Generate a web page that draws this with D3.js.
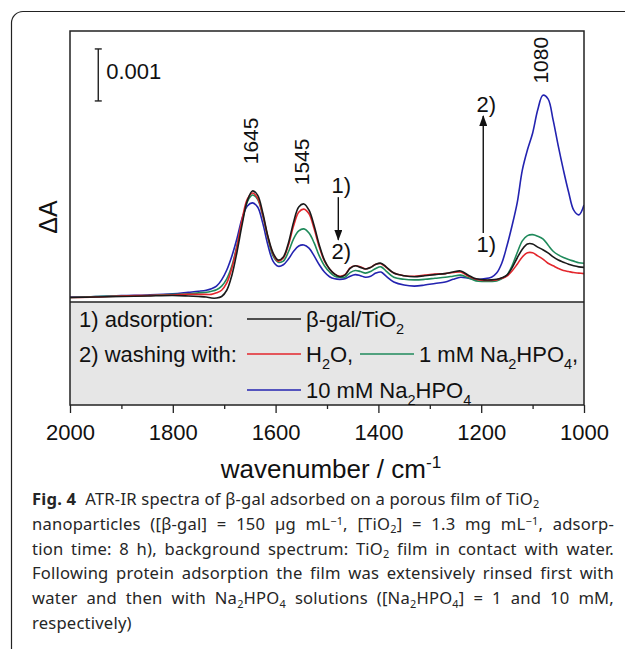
<!DOCTYPE html>
<html>
<head>
<meta charset="utf-8">
<script src="https://cdn.jsdelivr.net/npm/d3@7"></script>
<style>
  html, body { margin: 0; padding: 0; background: #fff; }
  svg { display: block; }
  text { white-space: pre; }
</style>
</head>
<body>
<svg id="chart" width="625" height="649"></svg>
<script>
// wavenumber grid (cm-1)
const wavenumbers = [2000,1950,1900,1850,1800, 1770,1750,1735,1725,1715, 1705,1695,1685,1675,1665,
  1655,1645,1635,1625,1615, 1605,1595,1585,1575,1565, 1555,1545,1535,1525,1515,
  1505,1495,1485,1475,1465, 1455,1445,1435,1425,1415, 1405,1395,1385,1370,1350,
  1330,1310,1290,1270,1255, 1240,1225,1210,1195,1180, 1170,1160,1150,1140,1130,
  1120,1110,1100,1090,1080, 1070,1060,1050,1040,1030, 1020,1010,1000];

// ΔA in units of 1e-3 (scale bar = 0.001)
const adsorbed = [-0.01,0.00,0.01,0.02,0.03, 0.02,0.01,0.00,-0.02,-0.02, 0.01,0.13,0.42,0.87,1.40,
  1.85,2.04,1.96,1.62,1.17, 0.85,0.71,0.77,1.04,1.44, 1.73,1.79,1.67,1.37,1.00,
  0.71,0.54,0.44,0.39,0.42, 0.55,0.60,0.57,0.54,0.57, 0.63,0.65,0.58,0.46,0.41,
  0.39,0.41,0.43,0.45,0.48, 0.50,0.42,0.35,0.33,0.33, 0.34,0.37,0.42,0.56,0.75,
  0.92,1.02,1.02,0.96,0.91, 0.85,0.77,0.71,0.67,0.63, 0.60,0.58,0.57];
const washH2O = [-0.01,0.00,0.02,0.03,0.04, 0.05,0.05,0.05,0.05,0.08, 0.13,0.27,0.56,0.98,1.50,
  1.88,2.00,1.90,1.58,1.15, 0.83,0.69,0.75,1.00,1.37, 1.63,1.69,1.60,1.31,0.96,
  0.69,0.54,0.44,0.40,0.43, 0.56,0.60,0.58,0.54,0.57, 0.63,0.64,0.57,0.46,0.41,
  0.40,0.42,0.44,0.45,0.47, 0.48,0.40,0.34,0.32,0.32, 0.33,0.36,0.40,0.50,0.63,
  0.77,0.85,0.85,0.79,0.73, 0.65,0.60,0.55,0.51,0.49, 0.47,0.46,0.45];
const washNa1 = [-0.01,0.01,0.02,0.03,0.05, 0.06,0.08,0.09,0.11,0.14, 0.21,0.35,0.60,1.00,1.46,
  1.83,1.96,1.88,1.56,1.13, 0.79,0.67,0.69,0.87,1.12, 1.27,1.31,1.23,1.04,0.79,
  0.60,0.48,0.40,0.38,0.38, 0.47,0.51,0.49,0.46,0.49, 0.55,0.58,0.50,0.38,0.34,
  0.33,0.34,0.36,0.38,0.40, 0.42,0.37,0.31,0.30,0.30, 0.31,0.35,0.42,0.60,0.85,
  1.08,1.18,1.20,1.17,1.12, 1.00,0.88,0.81,0.76,0.72, 0.69,0.66,0.65];
const washNa10 = [0.00,0.01,0.03,0.04,0.06, 0.09,0.11,0.13,0.16,0.21, 0.33,0.52,0.79,1.13,1.52,
  1.75,1.81,1.73,1.42,1.00, 0.69,0.59,0.62,0.73,0.88, 0.98,1.00,0.94,0.79,0.62,
  0.48,0.39,0.35,0.34,0.35, 0.40,0.43,0.41,0.38,0.40, 0.46,0.48,0.40,0.29,0.23,
  0.21,0.23,0.26,0.29,0.34, 0.38,0.36,0.34,0.35,0.38, 0.46,0.65,0.98,1.37,1.81,
  2.44,2.83,3.15,3.60,3.88, 3.81,3.40,2.90,2.44,2.02, 1.67,1.58,1.77];

const xTicks = [2000, 1800, 1600, 1400, 1200, 1000];
const peakLabels = ['1645', '1545', '1080'];
const scaleBarLabel = '0.001';

const seriesColors = ['#1a1a1a', '#e3262c', '#1f8a5b', '#2323b0'];

const svg = d3.select('#chart');
const font = '"Liberation Sans", Arial, sans-serif';
const capFont = '"Noto Sans", "Open Sans", sans-serif';

// rich text helper: parts = [[str, kind]], kind in '', 'sub', 'sup', 'b'
function rich(t, parts, size, subK = 0.3, supK = 0.4) {
  let shift = 0;
  parts.forEach(([str, kind]) => {
    const s = t.append('tspan').text(str);
    let target = 0;
    if (kind === 'sub') { target = size * subK; s.attr('font-size', size * 0.66); }
    else if (kind === 'sup') { target = -size * supK; s.attr('font-size', size * 0.66); }
    else if (kind === 'b') s.attr('font-weight', 'bold');
    if (target !== shift) { s.attr('dy', target - shift); shift = target; }
  });
  return t;
}

// outer rounded frame
svg.append('path')
  .attr('d', 'M11.5,660 V23 A11.5,11.5 0 0 1 23,11.5 H640')
  .attr('fill', 'none').attr('stroke', '#222').attr('stroke-width', 1.2);

const plot = { left: 70, right: 584, top: 31, bottom: 302, axis: 405 };

const x = d3.scaleLinear().domain([2000, 1000]).range([plot.left, plot.right]);
const y = d3.scaleLinear().domain([-0.096, 5.115]).range([plot.bottom, plot.top]);

// legend panel
svg.append('rect')
  .attr('x', plot.left).attr('y', plot.bottom)
  .attr('width', plot.right - plot.left).attr('height', plot.axis - plot.bottom)
  .attr('fill', '#e6e6e6');
svg.append('line')
  .attr('x1', plot.left).attr('x2', plot.right)
  .attr('y1', plot.bottom).attr('y2', plot.bottom)
  .attr('stroke', '#222').attr('stroke-width', 1.5);

svg.append('clipPath').attr('id', 'clip')
  .append('rect')
  .attr('x', plot.left).attr('y', plot.top)
  .attr('width', plot.right - plot.left).attr('height', plot.bottom - plot.top);

// spectra
const series = [adsorbed, washH2O, washNa1, washNa10];
const line = d3.line()
  .x((d, i) => x(wavenumbers[i]))
  .y(d => y(d))
  .curve(d3.curveCatmullRom.alpha(0.5));
const gLines = svg.append('g').attr('clip-path', 'url(#clip)');
[3, 2, 1, 0].forEach(k => {
  gLines.append('path')
    .datum(series[k])
    .attr('d', line)
    .attr('fill', 'none')
    .attr('stroke', seriesColors[k])
    .attr('stroke-width', 1.6);
});

// frame of the plot
svg.append('rect')
  .attr('x', plot.left).attr('y', plot.top)
  .attr('width', plot.right - plot.left).attr('height', plot.axis - plot.top)
  .attr('fill', 'none').attr('stroke', '#222').attr('stroke-width', 1.5);

// x axis with minor ticks
const minor = d3.range(1900, 1000, -200);
svg.append('g')
  .attr('transform', `translate(0,${plot.axis})`)
  .call(d3.axisBottom(x).tickValues(minor).tickSize(4).tickFormat(''))
  .call(g => g.select('.domain').remove())
  .selectAll('line').attr('stroke', '#222').attr('stroke-width', 1.3);
const xAxis = svg.append('g')
  .attr('transform', `translate(0,${plot.axis})`)
  .call(d3.axisBottom(x).tickValues(xTicks).tickSize(8).tickPadding(11).tickFormat(d3.format('d')));
xAxis.select('.domain').remove();
xAxis.selectAll('line').attr('stroke', '#222').attr('stroke-width', 1.3);
xAxis.selectAll('text')
  .attr('font-family', font).attr('font-size', 22).attr('fill', '#111');

// axis titles
rich(svg.append('text')
  .attr('x', 331).attr('y', 478)
  .attr('text-anchor', 'middle')
  .attr('font-family', font).attr('font-size', 26).attr('fill', '#111'),
  [['wavenumber / cm', ''], ['-1', 'sup']], 26);

svg.append('text')
  .attr('transform', 'translate(57,217) rotate(-90)')
  .attr('text-anchor', 'middle')
  .attr('font-family', font).attr('font-size', 25).attr('fill', '#111')
  .text('ΔA');

// scale bar (0.001)
const sbX = x(1945);
const sb0 = y(3.77), sb1 = y(4.77);
const sb = svg.append('g').attr('stroke', '#222').attr('stroke-width', 1.4);
sb.append('line').attr('x1', sbX).attr('x2', sbX).attr('y1', sb0).attr('y2', sb1);
sb.append('line').attr('x1', sbX - 3.5).attr('x2', sbX + 3.5).attr('y1', sb0).attr('y2', sb0);
sb.append('line').attr('x1', sbX - 3.5).attr('x2', sbX + 3.5).attr('y1', sb1).attr('y2', sb1);
svg.append('text')
  .attr('x', sbX + 8).attr('y', 79)
  .attr('font-family', font).attr('font-size', 22).attr('fill', '#111')
  .text(scaleBarLabel);

// peak labels (rotated)
const peakTop = [d3.max(adsorbed), d3.max(adsorbed.slice(25, 28)), d3.max(washNa10)];
const peakGap = [50, 42, 35];
peakLabels.forEach((lab, i) => {
  const cx = x(+lab) - 2;
  const cy = y(peakTop[i]) - peakGap[i];
  svg.append('text')
    .attr('transform', `translate(${cx},${cy}) rotate(-90)`)
    .attr('text-anchor', 'middle')
    .attr('dominant-baseline', 'central')
    .attr('font-family', font).attr('font-size', 21).attr('fill', '#111')
    .text(lab);
});

// arrows 1) -> 2)
const defs = svg.append('defs');
defs.append('marker')
  .attr('id', 'ah').attr('markerUnits', 'userSpaceOnUse')
  .attr('markerWidth', 11).attr('markerHeight', 8)
  .attr('refX', 10).attr('refY', 4).attr('orient', 'auto')
  .append('path').attr('d', 'M0,0 L11,4 L0,8 Z').attr('fill', '#111');

const arrows = [
  { wn: 1478, from: 1.92, to: 1.10 },
  { wn: 1196, from: 1.23, to: 3.48 }
];
arrows.forEach(a => {
  const ax = x(a.wn);
  svg.append('line')
    .attr('x1', ax).attr('x2', ax)
    .attr('y1', y(a.from)).attr('y2', y(a.to))
    .attr('stroke', '#111').attr('stroke-width', 1.4)
    .attr('marker-end', 'url(#ah)');
  const down = a.to < a.from;
  const top = down ? y(a.from) : y(a.to);
  const bot = down ? y(a.to) : y(a.from);
  svg.append('text')
    .attr('x', ax + 3).attr('y', top - 4)
    .attr('text-anchor', 'middle')
    .attr('font-family', font).attr('font-size', 22).attr('fill', '#111')
    .text(down ? '1)' : '2)');
  svg.append('text')
    .attr('x', ax + 3).attr('y', bot + 19)
    .attr('text-anchor', 'middle')
    .attr('font-family', font).attr('font-size', 22).attr('fill', '#111')
    .text(down ? '2)' : '1)');
});

// legend inside grey panel
const lg = svg.append('g').attr('font-family', font).attr('font-size', 22).attr('fill', '#111');
const rows = [327, 362, 398];
lg.append('text').attr('x', 79).attr('y', rows[0]).text('1) adsorption:');
lg.append('text').attr('x', 79).attr('y', rows[1]).text('2) washing with:');
const legendItems = [
  { k: 0, row: 0, x0: 247, parts: [['β-gal/TiO', ''], ['2', 'sub']] },
  { k: 1, row: 1, x0: 247, parts: [['H', ''], ['2', 'sub'], ['O,', '']] },
  { k: 2, row: 1, x0: 360, parts: [['1 mM Na', ''], ['2', 'sub'], ['HPO', ''], ['4', 'sub'], [',', '']] },
  { k: 3, row: 2, x0: 247, parts: [['10 mM Na', ''], ['2', 'sub'], ['HPO', ''], ['4', 'sub']] }
];
legendItems.forEach(it => {
  const yy = rows[it.row];
  lg.append('line')
    .attr('x1', it.x0).attr('x2', it.x0 + 54)
    .attr('y1', yy - 8).attr('y2', yy - 8)
    .attr('stroke', seriesColors[it.k]).attr('stroke-width', 1.6);
  rich(lg.append('text').attr('x', it.x0 + 59).attr('y', yy), it.parts, 22);
});

// caption
const captionLines = [
  [['Fig. 4', 'b'], ['  ATR-IR spectra of β-gal adsorbed on a porous film of TiO', ''], ['2', 'sub']],
  [['nanoparticles ([β-gal] = 150 µg mL', ''], ['−1', 'sup'], [', [TiO', ''], ['2', 'sub'], ['] = 1.3 mg mL', ''], ['−1', 'sup'], [', adsorp-', '']],
  [['tion time: 8 h), background spectrum: TiO', ''], ['2', 'sub'], [' film in contact with water.', '']],
  [['Following protein adsorption the film was extensively rinsed first with', '']],
  [['water and then with Na', ''], ['2', 'sub'], ['HPO', ''], ['4', 'sub'], [' solutions ([Na', ''], ['2', 'sub'], ['HPO', ''], ['4', 'sub'], ['] = 1 and 10 mM,', '']],
  [['respectively)', '']]
];
const capX = 32, capRight = 614, capSize = 16.6;
captionLines.forEach((parts, i) => {
  const t = svg.append('text')
    .attr('x', capX).attr('y', 505 + i * 24.8)
    .attr('font-family', capFont).attr('font-size', capSize)
    .attr('letter-spacing', 0.2).attr('fill', '#262626');
  rich(t, parts, capSize, 0.2, 0.3);
  if (i >= 1 && i <= 4) {
    const w = t.node().getComputedTextLength();
    const spaces = parts.reduce((n, p) => n + (p[0].match(/ /g) || []).length, 0);
    if (spaces > 0) t.attr('word-spacing', (capRight - capX - w) / spaces);
  }
});
</script>
</body>
</html>
